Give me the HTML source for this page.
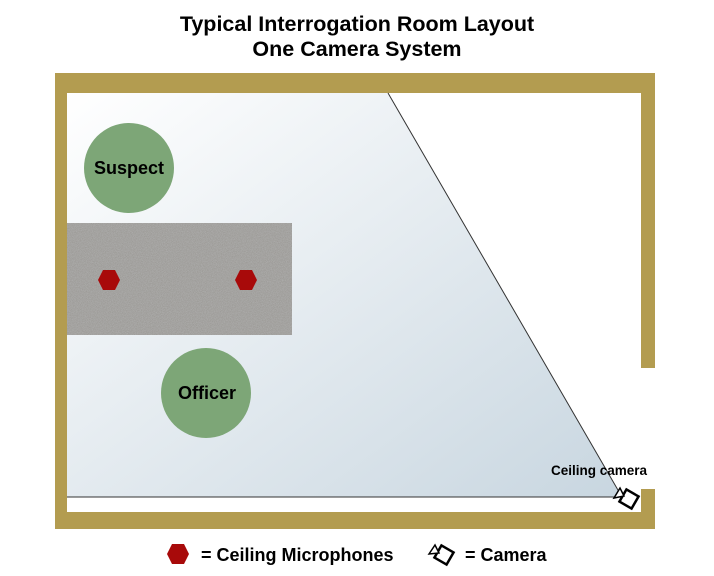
<!DOCTYPE html>
<html><head><style>
body{margin:0;width:714px;height:576px;background:#fff;overflow:hidden}
svg{display:block}
text{font-family:"Liberation Sans",Arial,sans-serif;font-weight:bold;fill:#000}
</style></head><body>
<svg width="714" height="576" viewBox="0 0 714 576">
<defs>
<linearGradient id="g" x1="0" y1="0" x2="1" y2="1">
<stop offset="0" stop-color="#ffffff"/><stop offset="1" stop-color="#c8d6e0"/>
</linearGradient>
<filter id="n"><feTurbulence type="fractalNoise" baseFrequency="1.2" numOctaves="2" seed="3"/><feColorMatrix values="0 0 0 0 0.45 0 0 0 0 0.45 0 0 0 0 0.45 0 0 0 1.2 -0.2"/><feComposite in2="SourceGraphic" operator="in"/></filter>
</defs>
<text x="357" y="31" font-size="21.5" text-anchor="middle">Typical Interrogation Room Layout</text>
<text x="357" y="56" font-size="21.5" text-anchor="middle">One Camera System</text>
<g fill="#b39c50">
<rect x="55" y="73" width="600" height="20"/>
<rect x="55" y="73" width="12" height="456"/>
<rect x="55" y="512" width="600" height="17"/>
<rect x="641" y="73" width="14" height="295"/>
<rect x="641" y="489" width="14" height="40"/>
</g>
<polygon points="67,93 388,93 622,497 67,497" fill="url(#g)"/>
<polyline points="388,93 622,497 67,497" fill="none" stroke="#333" stroke-width="1"/>
<rect x="67" y="223" width="225" height="112" fill="#9a9894"/>
<rect x="67" y="223" width="225" height="112" fill="#9a9894" filter="url(#n)"/>
<g fill="#a80a0a">
<polygon points="98,280 103,270 115,270 120,280 115,290 103,290"/>
<polygon points="235,280 240,270 252,270 257,280 252,290 240,290"/>
<polygon points="167,554 172,544 184,544 189,554 184,564 172,564"/>
</g>
<circle cx="129" cy="168" r="45" fill="#7da677"/>
<circle cx="206" cy="393" r="45" fill="#7da677"/>
<text x="129" y="174" font-size="18" text-anchor="middle">Suspect</text>
<text x="207" y="399" font-size="18" text-anchor="middle">Officer</text>
<text x="551" y="475" font-size="13.5">Ceiling camera</text>
<g fill="#fff" stroke="#000" stroke-width="2.5">
<rect x="-7" y="-7" width="14" height="14" transform="translate(629,499) rotate(30)"/>
<rect x="-7" y="-7" width="14" height="14" transform="translate(444,555) rotate(30)"/>
</g>
<g fill="#fff" stroke="#000" stroke-width="1.5">
<polygon points="614,498 620,488 624,496"/>
<polygon points="429,554 435,545 439,553"/>
</g>
<text x="201" y="561" font-size="18">= Ceiling Microphones</text>
<text x="465" y="561" font-size="18">= Camera</text>
</svg>
</body></html>
